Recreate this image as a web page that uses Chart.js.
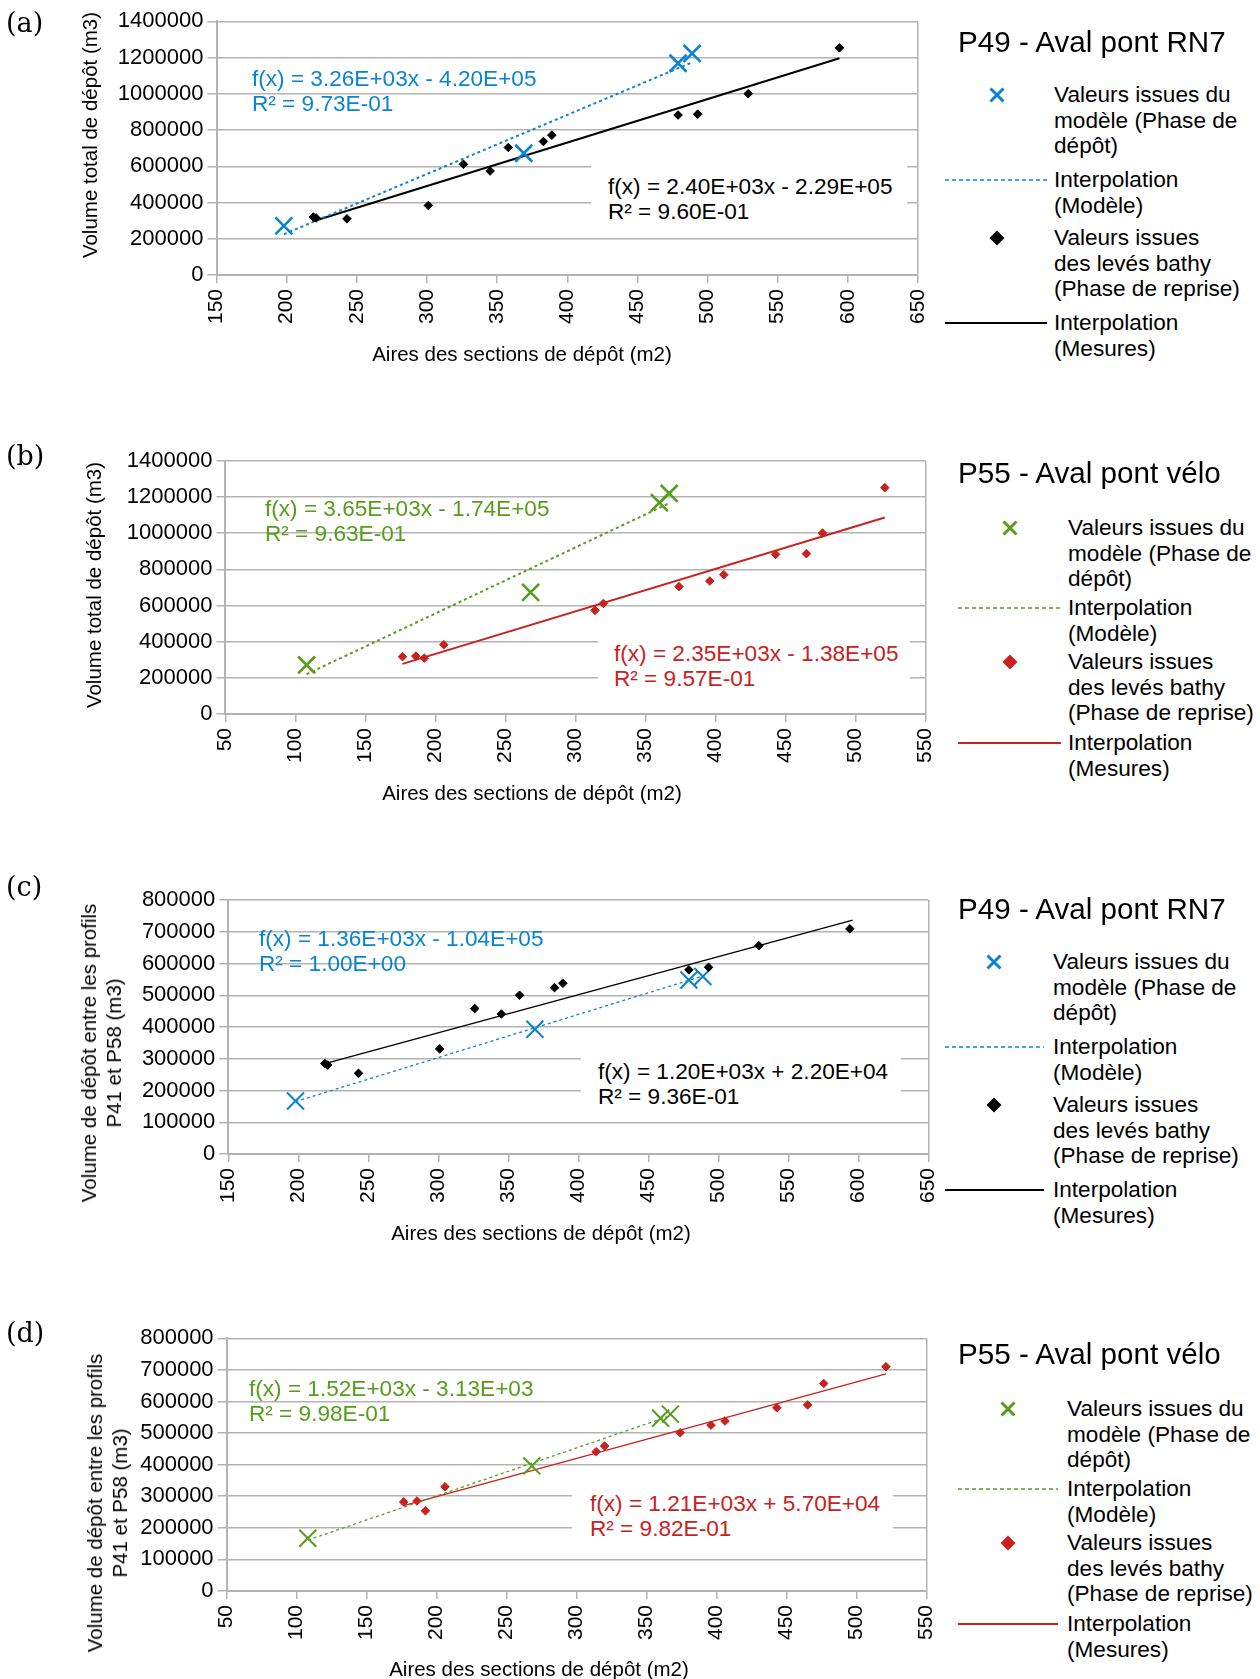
<!DOCTYPE html>
<html lang="fr">
<head>
<meta charset="utf-8">
<script src="https://cdn.jsdelivr.net/npm/chart.js@4.4.1/dist/chart.umd.min.js"></script>
<style>
  body { margin:0; background:#fff; width:1260px; height:1679px; position:relative; overflow:hidden;
         font-family:"Liberation Sans", Arial, sans-serif; color:#000; }
  canvas { position:absolute; left:0; }
  .abs { position:absolute; white-space:nowrap; z-index:2; }
  .letter { font-family:"DejaVu Serif", serif; font-size:27px; line-height:30px; }
  .ytitle, .xtitle { font-size:20.5px; line-height:25px; text-align:center; }
  .ytitle { transform:translate(-50%,-50%) rotate(-90deg); }
  .xtitle { transform:translate(-50%,-50%); }
  .eq { font-size:22.6px; line-height:25px; box-sizing:border-box; }
  .lgtitle { font-size:29.6px; line-height:34px; }
  .lgtext { font-size:22.6px; line-height:25.5px; }
  svg { position:absolute; left:0; top:0; z-index:2; }
</style>
</head>
<body>
<script>
// --- données ---

// P49 - Aval pont RN7 (a, c)
const p49MesArea = [219, 221, 243, 301, 326, 345, 358, 383, 389, 479, 493, 529, 594];
const p49MesTotal = [320000, 315000, 310000, 384000, 611000, 574000, 704000, 737000, 772000, 883000, 888000, 1001000, 1254000];
const p49MesBetween = [285000, 280000, 254000, 331000, 458000, 441000, 500000, 524000, 538000, 580000, 588000, 656000, 709000];
const p49ModArea = [198, 369, 479, 489];
const p49ModTotal = [271000, 672000, 1169000, 1223000];
const p49ModBetween = [167000, 393000, 548000, 559000];

// P55 - Aval pont vélo (b, d)
const p55MesArea = [176.5, 186, 192, 206, 314, 320, 374, 396, 406, 443, 465, 476.5, 521];
const p55MesTotal = [317000, 320000, 309000, 383000, 573000, 611000, 704000, 735000, 770000, 882000, 886000, 1000000, 1251000];
const p55MesBetween = [282000, 285000, 254000, 330000, 441000, 459000, 501000, 525000, 538000, 580000, 589000, 657000, 710000];
const p55ModArea = [108, 268, 360, 367];
const p55ModTotal = [271000, 672000, 1168000, 1219000];
const p55ModBetween = [167000, 396000, 547000, 560000];

// droites de tendance (extrémités)
const fitA_modX = [198, 489], fitA_modY = [225000, 1174000];
const fitA_mesX = [219, 594], fitA_mesY = [297000, 1197000];
const fitB_modX = [108, 367], fitB_modY = [220000, 1165000];
const fitB_mesX = [176.5, 521], fitB_mesY = [277000, 1086000];
const fitC_modX = [198, 490], fitC_modY = [165000, 562000];
const fitC_mesX = [219, 596], fitC_mesY = [285000, 737000];
const fitD_modX = [108, 367], fitD_modY = [161000, 555000];
const fitD_mesX = [176.5, 521], fitD_mesY = [270000, 687000];

const xTicksP49 = [150, 650, 50];
const xTicksP55 = [50, 550, 50];
const yTicksTotal = [0, 1400000, 200000];
const yTicksBetween = [0, 800000, 100000];

const GRID = '#b3b3b3';
const BLUE = '#0a84d0', GREEN = '#579d1c', RED = '#c9211e', BLACK = '#000000';
const CW = 1000; // largeur des canvas

function pts(xs, ys) {
  return xs.map((x, i) => ({x: x, y: ys[i]}));
}

function addDiv(cls, left, top, html, extra) {
  const d = document.createElement('div');
  d.className = 'abs ' + cls;
  d.style.left = left + 'px';
  d.style.top = top + 'px';
  d.innerHTML = html;
  if (extra) Object.assign(d.style, extra);
  document.body.appendChild(d);
  return d;
}

function makeChart(p) {
  const cv = document.createElement('canvas');
  cv.width = CW; cv.height = p.h;
  cv.style.top = p.top + 'px';
  document.body.appendChild(cv);
  const xmax = p.xt[1];
  new Chart(cv, {
    type: 'scatter',
    data: {
      datasets: [
        { data: pts(p.mesX, p.mesY), pointStyle: 'rectRot', pointRadius: 4.3,
          backgroundColor: p.mesColor, borderColor: p.mesColor, borderWidth: 1 },
        { data: pts(p.modX, p.modY), pointStyle: 'crossRot', pointRadius: 12,
          borderColor: p.modColor, borderWidth: p.crossW },
        { data: pts(p.fitModX, p.fitModY), showLine: true, pointRadius: 0,
          borderColor: p.modColor, borderWidth: p.lineW, borderDash: [3, 3] },
        { data: pts(p.fitMesX, p.fitMesY), showLine: true, pointRadius: 0,
          borderColor: p.mesColor, borderWidth: p.lineW }
      ]
    },
    options: {
      responsive: false,
      animation: false,
      layout: { padding: { left: 0, top: p.plotTop, right: CW - p.plotRight, bottom: 0 } },
      plugins: { legend: { display: false }, tooltip: { enabled: false } },
      scales: {
        x: {
          type: 'linear', min: p.xt[0], max: xmax,
          ticks: { stepSize: p.xt[2], minRotation: 90, maxRotation: 90, autoSkip: false,
                   padding: 6, color: '#000', font: { size: 21 } },
          grid: { color: c => (c.tick && c.tick.value === xmax) ? GRID : 'rgba(0,0,0,0)',
                  tickColor: GRID, tickLength: 8, lineWidth: 1.5 },
          border: { color: GRID, width: 2 },
          afterFit: s => { s.height = p.h - p.plotBottom; }
        },
        y: {
          min: p.yt[0], max: p.yt[1],
          ticks: { stepSize: p.yt[2], padding: 4, color: '#000', font: { size: 22 },
                   callback: v => String(v) },
          grid: { color: GRID, tickLength: 9, lineWidth: 1.5 },
          border: { color: GRID, width: 2 },
          afterFit: s => { s.width = p.plotLeft; }
        }
      }
    }
  });
}

function eqLabel(e) {
  const txt = e.lines.join('<br>');
  if (e.box) {
    const b = e.box;
    addDiv('eq', b[0], b[1], txt, {
      width: (b[2] - b[0]) + 'px', height: (b[3] - b[1]) + 'px', background: '#fff',
      paddingLeft: (e.x - b[0]) + 'px', paddingTop: (e.y - 12.5 - b[1]) + 'px', color: e.color
    });
  } else {
    addDiv('eq', e.x, e.y - 12.5, txt, { color: e.color });
  }
}

let svg = '';
function legend(l) {
  addDiv('lgtitle', 958, l.titleY - 17, l.title);
  const texts = [
    'Valeurs issues du<br>modèle (Phase de<br>dépôt)',
    'Interpolation<br>(Modèle)',
    'Valeurs issues<br>des levés bathy<br>(Phase de reprise)',
    'Interpolation<br>(Mesures)'
  ];
  texts.forEach((t, i) => addDiv('lgtext', l.textX, l.ys[i] - 12.75, t));
  const mx = l.markX, r = 6.5;
  let y = l.ys[0];
  svg += `<line x1="${mx - r}" y1="${y - r}" x2="${mx + r}" y2="${y + r}" stroke="${l.modColor}" stroke-width="3"/>`;
  svg += `<line x1="${mx - r}" y1="${y + r}" x2="${mx + r}" y2="${y - r}" stroke="${l.modColor}" stroke-width="3"/>`;
  y = l.ys[1];
  svg += `<line x1="${l.lx[0]}" y1="${y}" x2="${l.lx[1]}" y2="${y}" stroke="${l.modColor}" stroke-width="1.6" stroke-dasharray="4 3"/>`;
  y = l.ys[2];
  svg += `<polygon points="${mx - 7.5},${y} ${mx},${y - 7.5} ${mx + 7.5},${y} ${mx},${y + 7.5}" fill="${l.mesColor}"/>`;
  y = l.ys[3];
  svg += `<line x1="${l.lx[0]}" y1="${y}" x2="${l.lx[1]}" y2="${y}" stroke="${l.mesColor}" stroke-width="2"/>`;
}

const panels = [
  { letter: '(a)', letterY: 23, top: 0, h: 410, plotLeft: 216.5, plotRight: 918, plotTop: 21.4, plotBottom: 275,
    xt: xTicksP49, yt: yTicksTotal, mesX: p49MesArea, mesY: p49MesTotal, modX: p49ModArea, modY: p49ModTotal,
    fitModX: fitA_modX, fitModY: fitA_modY, fitMesX: fitA_mesX, fitMesY: fitA_mesY,
    mesColor: BLACK, modColor: BLUE, crossW: 2.6, lineW: 2,
    ytitle: ['Volume total de dépôt (m3)'], yc: [89, 135], xc: [522, 353],
    eqs: [
      { x: 252, y: 78, color: BLUE, lines: ['f(x) = 3.26E+03x - 4.20E+05', 'R² = 9.73E-01'] },
      { x: 608, y: 186.5, color: BLACK, box: [591, 160, 907, 225], lines: ['f(x) = 2.40E+03x - 2.29E+05', 'R² = 9.60E-01'] }
    ],
    leg: { title: 'P49 - Aval pont RN7', titleY: 42, textX: 1054, markX: 997, lx: [945, 1047], ys: [95, 180, 238, 323] } },
  { letter: '(b)', letterY: 456, top: 420, h: 400, plotLeft: 225.4, plotRight: 925.4, plotTop: 40.7, plotBottom: 294,
    xt: xTicksP55, yt: yTicksTotal, mesX: p55MesArea, mesY: p55MesTotal, modX: p55ModArea, modY: p55ModTotal,
    fitModX: fitB_modX, fitModY: fitB_modY, fitMesX: fitB_mesX, fitMesY: fitB_mesY,
    mesColor: RED, modColor: GREEN, crossW: 2.6, lineW: 2,
    ytitle: ['Volume total de dépôt (m3)'], yc: [93, 585], xc: [532, 792],
    eqs: [
      { x: 265, y: 508, color: GREEN, lines: ['f(x) = 3.65E+03x - 1.74E+05', 'R² = 9.63E-01'] },
      { x: 614, y: 653, color: RED, box: [598, 627, 910, 692], lines: ['f(x) = 2.35E+03x - 1.38E+05', 'R² = 9.57E-01'] }
    ],
    leg: { title: 'P55 - Aval pont vélo', titleY: 473, textX: 1068, markX: 1010, lx: [958, 1061], ys: [528, 608, 662, 743] } },
  { letter: '(c)', letterY: 887, top: 860, h: 400, plotLeft: 228.3, plotRight: 928.3, plotTop: 40, plotBottom: 294,
    xt: xTicksP49, yt: yTicksBetween, mesX: p49MesArea, mesY: p49MesBetween, modX: p49ModArea, modY: p49ModBetween,
    fitModX: fitC_modX, fitModY: fitC_modY, fitMesX: fitC_mesX, fitMesY: fitC_mesY,
    mesColor: BLACK, modColor: BLUE, crossW: 2, lineW: 1.3,
    ytitle: ['Volume de dépôt entre les profils', 'P41 et P58 (m3)'], yc: [100.5, 1053], xc: [541, 1232],
    eqs: [
      { x: 259, y: 938, color: BLUE, lines: ['f(x) = 1.36E+03x - 1.04E+05', 'R² = 1.00E+00'] },
      { x: 598, y: 1071, color: BLACK, box: [581, 1042, 901, 1110], lines: ['f(x) = 1.20E+03x + 2.20E+04', 'R² = 9.36E-01'] }
    ],
    leg: { title: 'P49 - Aval pont RN7', titleY: 909, textX: 1053, markX: 994, lx: [945, 1044], ys: [962, 1047, 1105, 1190] } },
  { letter: '(d)', letterY: 1333, top: 1300, h: 379, plotLeft: 226.6, plotRight: 926.6, plotTop: 38.3, plotBottom: 291,
    xt: xTicksP55, yt: yTicksBetween, mesX: p55MesArea, mesY: p55MesBetween, modX: p55ModArea, modY: p55ModBetween,
    fitModX: fitD_modX, fitModY: fitD_modY, fitMesX: fitD_mesX, fitMesY: fitD_mesY,
    mesColor: RED, modColor: GREEN, crossW: 2, lineW: 1.3,
    ytitle: ['Volume de dépôt entre les profils', 'P41 et P58 (m3)'], yc: [106.5, 1503], xc: [539, 1668],
    eqs: [
      { x: 249, y: 1388, color: GREEN, lines: ['f(x) = 1.52E+03x - 3.13E+03', 'R² = 9.98E-01'] },
      { x: 590, y: 1503, color: RED, box: [572, 1481, 893, 1545], lines: ['f(x) = 1.21E+03x + 5.70E+04', 'R² = 9.82E-01'] }
    ],
    leg: { title: 'P55 - Aval pont vélo', titleY: 1354, textX: 1067, markX: 1008, lx: [958, 1058], ys: [1409, 1489, 1543, 1624] } }
];

panels.forEach(p => {
  makeChart(p);
  addDiv('letter', 6, p.letterY - 15, p.letter);
  addDiv('ytitle', p.yc[0], p.yc[1], p.ytitle.join('<br>'));
  addDiv('xtitle', p.xc[0], p.xc[1], 'Aires des sections de dépôt (m2)');
  p.eqs.forEach(eqLabel);
  p.leg.modColor = p.modColor;
  p.leg.mesColor = p.mesColor;
  legend(p.leg);
});

const s = document.createElementNS('http://www.w3.org/2000/svg', 'svg');
s.setAttribute('width', 1260);
s.setAttribute('height', 1679);
s.innerHTML = svg;
document.body.appendChild(s);
</script>
</body>
</html>
